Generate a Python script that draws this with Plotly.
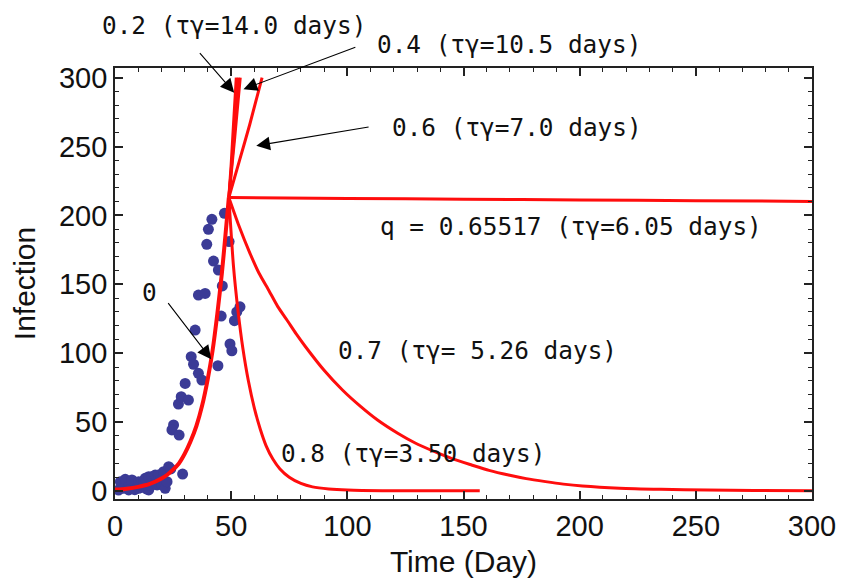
import plotly.graph_objects as go

X_RANGE = [0, 300]
Y_RANGE = [-5.8, 307]

# Observed infections (day, count)
obs_day = [1.5, 2.3, 3.5, 4.4, 5.8, 5.9, 7.3, 8.5, 10.2, 10.2, 11.0, 12.3, 13.0, 13.5,
           14.5, 14.5, 15.5, 15.9, 17.3, 18.1, 18.7, 19.5, 20.2, 20.9, 21.6, 22.4, 23.1,
           24.0, 29.1, 25.2, 24.5, 27.6, 27.3, 28.5, 30.2,
           31.6, 32.8, 33.8, 34.5, 35.9, 37.4, 35.9, 38.8, 39.5, 40.2, 41.7, 42.4, 44.5,
           44.3, 45.7, 46.2, 47.1, 49.1, 49.5, 50.3, 51.4, 52.4, 53.8]
obs_cases = [0.7, 6.8, 2.0, 8.5, 3.1, 0.8, 8.0, 1.0, 2.0, 6.8, 5.0, 6.8, 9.2, 1.5,
             10.4, 0.8, 4.0, 10.4, 11.6, 4.4, 11.6, 8.0, 4.4, 14.0, 2.0, 6.8, 17.6,
             16.0, 12.3, 47.9, 44.3, 40.6, 63.1, 68.4, 78.1,
             66.0, 97.5, 92.0, 116.8, 85.4, 80.5, 142.2, 143.4, 179.0, 189.9, 197.2, 166.9, 160.4,
             90.9, 127.0, 148.8, 201.5, 181.0, 106.7, 101.8, 123.6, 130.0, 133.7]

# Model curves (day, infection) for each quarantine ratio q
base_t = [0, 5, 10, 15, 20, 22.5, 25, 27.5, 30, 32.5, 35, 37.5, 40, 42, 44, 46, 47.5, 49]
base_i = [1.0, 1.7, 3.0, 5.1, 9.0, 11.8, 15.5, 20.0, 27.0, 36.0, 47.0, 62.0, 82.0, 102.0,
          128.0, 158.0, 185.0, 213.0]

q00_t = [49.0, 50.0, 51.0, 52.2]
q00_i = [213.0, 237.0, 266.0, 300.0]

q02_t = [49.0, 51.0, 53.0]
q02_i = [213.0, 252.0, 300.0]

q04_t = [49.0, 51.5, 53.9]
q04_i = [213.0, 256.0, 300.0]

q06_t = [49.0, 53.6, 58.0, 63.3]
q06_i = [213.0, 240.0, 266.0, 300.0]

qc_t = [49.0, 100.0, 150.0, 200.0, 250.0, 300.0]
qc_i = [213.0, 212.3, 211.8, 211.2, 210.7, 210.2]

q07_t = [49.0, 53.0, 58.1, 62.0, 66.1, 70.0, 74.0, 78.0, 82.0, 89.9, 97.9, 105.8, 113.0,
         121.7, 129.0, 137.6, 145.0, 153.5, 161.0, 169.4, 177.0, 185.3, 193.0, 201.2,
         217.2, 235.0, 255.0, 275.0, 300.0]
q07_i = [213.0, 194.0, 172.5, 158.0, 145.9, 134.0, 124.1, 114.0, 104.7, 87.8, 73.3, 61.2,
         51.5, 41.9, 35.0, 28.5, 23.5, 18.9, 15.0, 11.6, 9.0, 6.8, 5.0, 3.6,
         2.0, 1.2, 0.7, 0.4, 0.2]

q08_t = [49.0, 51.0, 53.0, 55.0, 57.4, 60.0, 62.5, 65.0, 68.0, 71.0, 75.0, 80.0, 85.0,
         92.0, 100.0, 115.0, 157.0]
q08_i = [213.0, 163.0, 130.0, 104.0, 80.0, 60.0, 45.0, 33.0, 23.0, 16.0, 10.0, 5.5, 3.0,
         1.5, 0.7, 0.2, 0.1]

curves = [
    (base_t, base_i, 4), (q00_t, q00_i, 3), (q02_t, q02_i, 3), (q04_t, q04_i, 3),
    (q06_t, q06_i, 3), (qc_t, qc_i, 3), (q07_t, q07_i, 3), (q08_t, q08_i, 3),
]

# Curve labels: (text, day, infection)
labels = [
    ("0.2 (τγ=14.0 days)", 51.1, 338.2),
    ("0.4 (τγ=10.5 days)", 169.6, 323.7),
    ("0.6 (τγ=7.0 days)", 173.2, 263.5),
    ("q = 0.65517 (τγ=6.05 days)", 196.3, 191.8),
    ("0.7 (τγ= 5.26 days)", 156.0, 102.3),
    ("0.8 (τγ=3.50 days)", 128.3, 27.4),
    ("0", 14.9, 143.9),
]

# Pointer arrows: (tail_day, tail_inf, head_day, head_inf)
arrows = [
    (35.96, 318.9, 51.3, 289.1),
    (104.1, 322.5, 55.3, 291.6),
    (109.8, 264.4, 60.8, 250.6),
    (22.4, 137.4, 41.4, 95.6),
]


def to_paper_x(v):
    return (v - X_RANGE[0]) / (X_RANGE[1] - X_RANGE[0])


def to_paper_y(v):
    return (v - Y_RANGE[0]) / (Y_RANGE[1] - Y_RANGE[0])


fig = go.Figure()

fig.add_trace(go.Scatter(
    x=obs_day, y=obs_cases, mode="markers",
    marker=dict(color="#3b3b96", size=11, line=dict(width=0)),
    showlegend=False, cliponaxis=True,
))

for t, i, w in curves:
    fig.add_trace(go.Scatter(
        x=t, y=i, mode="lines",
        line=dict(color="#ff0d0d", width=w, shape="spline", smoothing=0.6),
        showlegend=False,
    ))

annotations = []
for text, x, y in labels:
    annotations.append(dict(
        x=to_paper_x(x), y=to_paper_y(y), xref="paper", yref="paper",
        text=text, showarrow=False, xanchor="center", yanchor="middle",
        font=dict(family="DejaVu Sans Mono", size=24.4, color="#111111"),
    ))
for tx, ty, hx, hy in arrows:
    annotations.append(dict(
        x=hx, y=hy, ax=tx, ay=ty, xref="x", yref="y", axref="x", ayref="y",
        text="", showarrow=True, arrowhead=2, arrowsize=2.5, arrowwidth=1.1,
        arrowcolor="#000000", standoff=0, startstandoff=0,
    ))

axis_font = dict(family="Liberation Sans, Arial, sans-serif", size=29, color="#111111")
title_font = dict(family="Liberation Sans, Arial, sans-serif", size=30, color="#111111")

fig.update_layout(
    width=841, height=582,
    margin=dict(l=114.7, r=28.7, t=68, b=83),
    paper_bgcolor="white", plot_bgcolor="white",
    annotations=annotations,
    showlegend=False,
)

common = dict(
    tickvals=[0, 50, 100, 150, 200, 250, 300],
    ticks="inside", ticklen=8, tickwidth=1.5, tickcolor="#222222",
    minor=dict(dtick=10, ticks="inside", ticklen=4, tickwidth=1.2, tickcolor="#222222"),
    showline=True, linecolor="#222222", linewidth=1.8, mirror="allticks",
    showgrid=False, zeroline=False, automargin=False,
    tickfont=axis_font,
)
fig.update_xaxes(range=X_RANGE, title=dict(text="Time (Day)", font=title_font, standoff=10), **common)
fig.update_yaxes(range=Y_RANGE, title=dict(text="Infection", font=title_font, standoff=14), **common)

fig.write_html("out.html")
